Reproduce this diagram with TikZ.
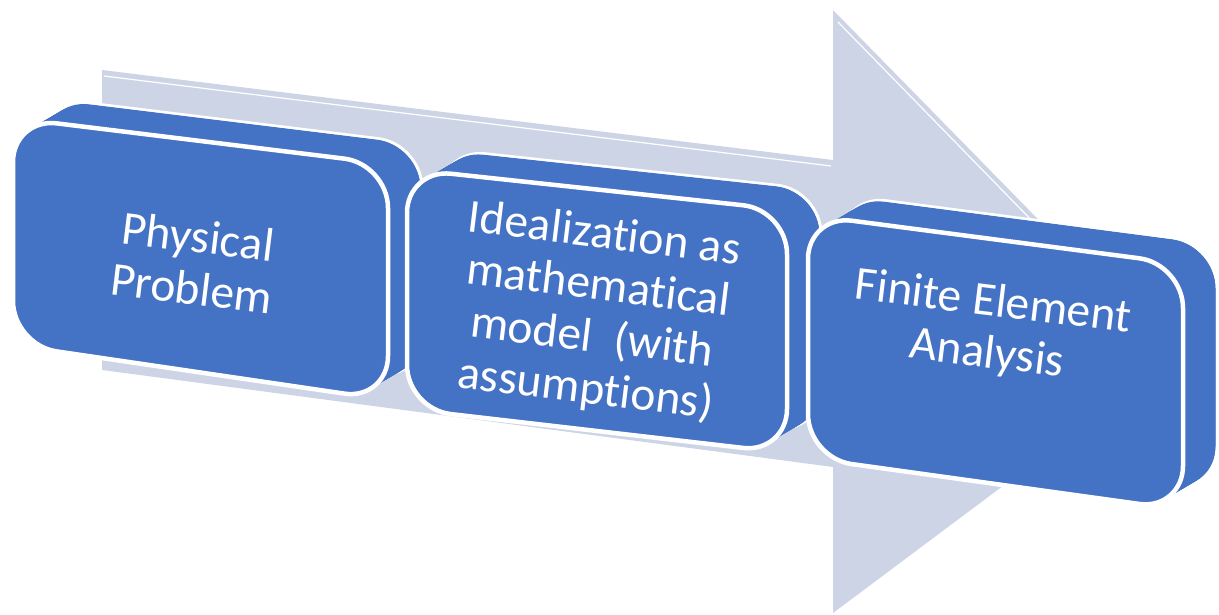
\documentclass[tikz,border=0pt]{standalone}
\usepackage{fontspec}
\setmainfont{Carlito}[Ligatures=CommonOff]
\definecolor{boxblue}{HTML}{4472C4}
\definecolor{arrowgrey}{HTML}{CDD4E6}

% A rounded slab seen in perspective: front face TL=(#1,#2), TR=(#3,#4),
% BR=(#3,#5), BL=(#1,#6); the back face is the front face moved by (34,-20).
\newcommand\drawslab[6]{%
  \filldraw[fill=boxblue, draw=white, line width=3pt, rounded corners=44pt,
    shift={(34,-20)}] (#1,#2) -- (#3,#4) -- (#3,#5) -- (#1,#6) -- cycle;
  \foreach \k in {19,...,1}{%
    \fill[boxblue, rounded corners=44pt, shift={(\k*1.7,-\k*1)}]
      (#1,#2) -- (#3,#4) -- (#3,#5) -- (#1,#6) -- cycle;
  }
  \filldraw[fill=boxblue, draw=white, line width=4.5pt, rounded corners=44pt]
    (#1,#2) -- (#3,#4) -- (#3,#5) -- (#1,#6) -- cycle;
}

\tikzset{
  steptext/.style={text=white, align=center, inner sep=0pt, rotate=-7,
    font=\fontsize{47.5}{52}\selectfont},
}

\begin{document}
\begin{tikzpicture}[x=1pt, y=-1pt]
  \useasboundingbox (0,0) rectangle (1219,615);

  % large background arrow
  \fill[arrowgrey] (102,70) -- (833,160) -- (833,10) -- (1174,358)
    -- (833,613) -- (833,467) -- (102,370) -- cycle;
  \draw[white, line width=1.2pt] (104,76) -- (831,166);
  \draw[white, line width=1.2pt] (838,22) -- (1168,360);

  % step 1
  \drawslab{13}{118}{388}{164}{400}{345}
  \node[steptext] (s1) at (195,262) {Physical\\Problem};

  % step 2
  \drawslab{407}{169}{787}{210}{453}{409}
  \node[steptext] (s2) at (595,313)
    {Idealization as\\mathematical\\model\ \ (with\\assumptions)};

  % step 3
  \drawslab{808}{215}{1183}{264}{510}{458}
  \node[steptext] (s3) at (990,329) {Finite Element\\Analysis};
\end{tikzpicture}
\end{document}
